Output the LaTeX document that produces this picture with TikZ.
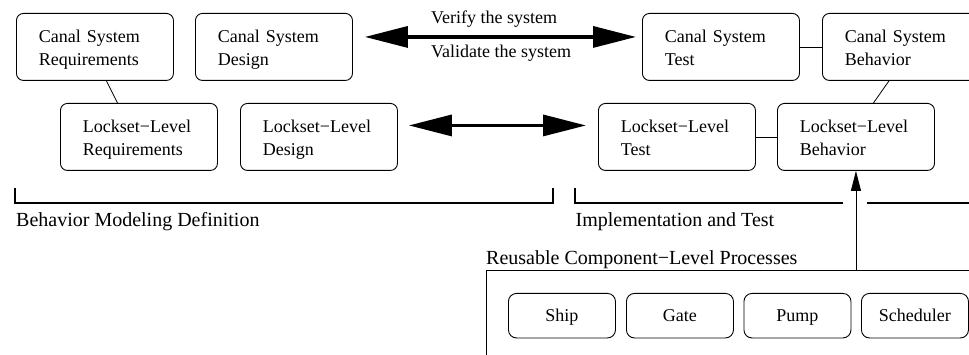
\documentclass[tikz,border=0pt]{standalone}
\usepackage{fontspec}
\setmainfont{Liberation Serif}
\usetikzlibrary{arrows.meta}
\newcommand\boxfont{\fontsize{18}{23.3}\selectfont}
\newcommand\labfont{\fontsize{20}{24}\selectfont}
\newcommand\boxtxt[2]{\rule{0pt}{28.7pt}#1\\#2\rule[-15pt]{0pt}{15pt}}
\begin{document}
\begin{tikzpicture}[x=1pt,y=-1pt,
  phase/.style={draw, line width=0.9pt, rounded corners=7pt, anchor=north west,
    inner xsep=22.5pt, inner ysep=0pt, align=left, text width=112pt, font=\boxfont},
  comp/.style={draw, line width=0.9pt, rounded corners=8pt, anchor=north west,
    minimum width=107pt, minimum height=44.5pt, inner sep=0pt,
    text height=12pt, text depth=0pt, font=\boxfont},
  link/.style={line width=0.8pt},
  bigarrow/.style={line width=3.3pt, {Triangle[length=43pt,width=21pt]}-{Triangle[length=43pt,width=21pt]}},
  bracket/.style={line width=1.8pt},
  lab/.style={anchor=base west, inner sep=0pt, font=\labfont},
  alab/.style={anchor=base west, inner sep=0pt, font=\boxfont}]
\useasboundingbox (0,0) rectangle (969,355);
% top row
\node[phase] (csr) at (16,13) {\boxtxt{Canal System}{Requirements}};
\node[phase] (csd) at (195,13) {\boxtxt{Canal System}{Design}};
\node[phase] (cst) at (642,13) {\boxtxt{Canal System}{Test}};
\node[phase] (csb) at (822,13) {\boxtxt{Canal System}{Behavior}};
% second row
\node[phase] (llr) at (60,103) {\boxtxt{Lockset−Level}{Requirements}};
\node[phase] (lld) at (240,103) {\boxtxt{Lockset−Level}{Design}};
\node[phase] (llt) at (598,103) {\boxtxt{Lockset−Level}{Test}};
\node[phase] (llb) at (777,103) {\boxtxt{Lockset−Level}{Behavior}};
% arrows
\draw[bigarrow, shorten <=12pt, shorten >=6pt] ([yshift=10pt]csd.east) -- ([yshift=10pt]cst.west);
\draw[bigarrow, shorten <=11pt, shorten >=12pt] ([yshift=11.5pt]lld.east) -- ([yshift=11.5pt]llt.west);
\node[alab] (ver) at (431,24) {Verify the system};
\node[alab] (val) at (431,58) {Validate the system};
% links
\draw[link] ([xshift=11.5pt]csr.south) -- ([xshift=-21.5pt]llr.north);
\draw[link] (cst.east) -- (csb.west);
\draw[link] ([xshift=-12pt]csb.south) -- ([xshift=17.5pt]llb.north);
\draw[link] (llt.east) -- (llb.west);
% brackets
\draw[bracket] (15,188) -- (15,203) -- (553,203) -- (553,188);
\draw[bracket] (575,188) -- (575,203) -- (843,203);
\draw[bracket] (867,203) -- (985,203);
\node[lab] (bmd) at (16,226.7) {Behavior Modeling Definition};
\node[lab] (imt) at (575.5,226.7) {Implementation and Test};
% reusable components
\node[lab] (rcl) at (486,265) {Reusable Component−Level Processes};
\node[draw, line width=0.9pt, anchor=north west, minimum width=600pt, minimum height=200pt, inner sep=0pt] (reuse) at (486,270) {};
\node[comp] (ship) at (508,293) {Ship};
\node[comp] (gate) at (626,293) {Gate};
\node[comp] (pump) at (743.5,293) {Pump};
\node[comp] (sched) at (861,293) {Scheduler};
\draw[line width=0.9pt, -{Triangle[length=20pt,width=10pt]}] (llb.south |- reuse.north) -- (llb.south);
\end{tikzpicture}
\end{document}
